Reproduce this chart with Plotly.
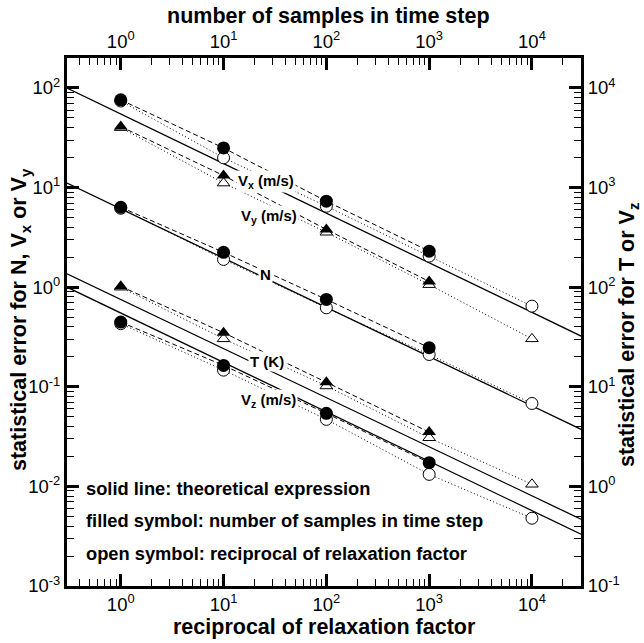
import plotly.graph_objects as go
import math

# ---------------- data ----------------
x_filled = [1, 10, 100, 1000]
x_open = [1, 10, 100, 1000, 10000]

# left axis: N, Vx, Vy
vx_filled = [76, 25.0, 7.3, 2.30]
vx_open = [74, 19.9, 6.5, 2.05, 0.645]
vy_filled = [41, 13.2, 3.8, 1.14]
vy_open = [40, 11.1, 3.56, 1.06, 0.303]
n_filled = [6.35, 2.24, 0.753, 0.247]
n_open = [6.2, 1.90, 0.621, 0.211, 0.068]

# right axis: T, Vz
t_filled = [102, 34.9, 11.1, 3.51]
t_open = [100, 30.3, 10.2, 3.08, 1.05]
vz_filled = [44.6, 16.4, 5.41, 1.73]
vz_open = [43, 14.7, 4.71, 1.32, 0.479]

# theoretical expressions (straight lines across the plot)
theory_x = [0.3, 30000]
vxy_theory = [100, 0.323]
n_theory = [11.1, 0.0374]
t_theory = [136, 0.468]
vz_theory = [100, 0.331]

x_tickvals = [1, 10, 100, 1000, 10000]
x_ticktext = ["10<sup>0</sup>", "10<sup>1</sup>", "10<sup>2</sup>", "10<sup>3</sup>", "10<sup>4</sup>"]
y_tickvals = [1e-3, 1e-2, 1e-1, 1, 10, 100]
y_ticktext = ["10<sup>-3</sup>", "10<sup>-2</sup>", "10<sup>-1</sup>", "10<sup>0</sup>", "10<sup>1</sup>", "10<sup>2</sup>"]
y2_tickvals = [1e-1, 1, 10, 100, 1000, 10000]
y2_ticktext = ["10<sup>-1</sup>", "10<sup>0</sup>", "10<sup>1</sup>", "10<sup>2</sup>", "10<sup>3</sup>", "10<sup>4</sup>"]

x_range = [0.3, 30000]
y_range = [1e-3, 200]
y2_range = [1e-1, 20000]

FONT = "Liberation Sans, Arial, sans-serif"

ML, MR, MT, MB = 67, 63, 58, 57
W, H = 644, 643
PW, PH = W - ML - MR, H - MT - MB


def px2paper(px, py):
    return (px - ML) / PW, (H - MB - py) / PH


def minor_vals(lo, hi):
    vals = []
    for e in range(int(math.floor(math.log10(lo))) - 1, int(math.ceil(math.log10(hi))) + 1):
        for k in range(2, 10):
            v = k * 10 ** e
            if lo <= v <= hi:
                vals.append(v)
    return vals


fig = go.Figure()

DASH = "5px,3px"
DOT = "1px,2.5px"


def add_open(x, y, sym, yaxis):
    fig.add_trace(go.Scatter(
        x=x, y=y, mode="lines+markers", yaxis=yaxis, showlegend=False,
        line=dict(color="black", width=1, dash=DOT),
        marker=dict(symbol=sym, size=12 if sym == "circle" else 11, color="white",
                    line=dict(color="black", width=1))))


def add_filled(x, y, sym, yaxis):
    fig.add_trace(go.Scatter(
        x=x, y=y, mode="lines+markers", yaxis=yaxis, showlegend=False,
        line=dict(color="black", width=1, dash=DASH),
        marker=dict(symbol=sym, size=13 if sym == "circle" else 12, color="black",
                    line=dict(color="black", width=0))))


def add_theory(y, yaxis):
    fig.add_trace(go.Scatter(
        x=theory_x, y=y, mode="lines", yaxis=yaxis, showlegend=False,
        line=dict(color="black", width=1.3)))


# theory lines
add_theory(vxy_theory, "y")
add_theory(n_theory, "y")
add_theory(t_theory, "y2")
add_theory(vz_theory, "y2")

# open symbols (reciprocal of relaxation factor)
add_open(x_open, vx_open, "circle", "y")
add_open(x_open, vy_open, "triangle-up", "y")
add_open(x_open, n_open, "circle", "y")
add_open(x_open, t_open, "triangle-up", "y2")
add_open(x_open, vz_open, "circle", "y2")

# filled symbols (number of samples in time step)
add_filled(x_filled, vx_filled, "circle", "y")
add_filled(x_filled, vy_filled, "triangle-up", "y")
add_filled(x_filled, n_filled, "circle", "y")
add_filled(x_filled, t_filled, "triangle-up", "y2")
add_filled(x_filled, vz_filled, "circle", "y2")

# invisible trace to anchor the top axis
fig.add_trace(go.Scatter(x=[1], y=[1], xaxis="x2", yaxis="y", mode="markers",
                         marker=dict(opacity=0), showlegend=False, hoverinfo="skip"))

tickfont = dict(family=FONT, size=18.5, color="black")


def axis(rng, tv, tt, side=None, overlaying=None, **kw):
    d = dict(
        type="log", range=[math.log10(rng[0]), math.log10(rng[1])],
        showline=True, linewidth=3, linecolor="black",
        ticks="inside", ticklen=12, tickwidth=2.5, tickcolor="black",
        tickmode="array", tickvals=tv, ticktext=tt, tickfont=tickfont,
        showgrid=False, zeroline=False,
        minor=dict(ticks="inside", ticklen=7, tickwidth=1, tickcolor="black",
                   tickmode="array", tickvals=minor_vals(rng[0], rng[1]), showgrid=False),
    )
    if side:
        d["side"] = side
    if overlaying:
        d["overlaying"] = overlaying
    d.update(kw)
    return d


fig.update_layout(
    width=W, height=H,
    margin=dict(l=ML, r=MR, t=MT, b=MB),
    paper_bgcolor="white", plot_bgcolor="white",
    xaxis=axis(x_range, x_tickvals, x_ticktext),
    xaxis2=axis(x_range, x_tickvals, x_ticktext, side="top", overlaying="x", anchor="y"),
    yaxis=axis(y_range, y_tickvals, y_ticktext),
    yaxis2=axis(y2_range, y2_tickvals, y2_ticktext, side="right", overlaying="y", anchor="x"),
)

# axis titles (pixel-placed)
titles = [
    ("reciprocal of relaxation factor", 324, 627, 0, 21.5),
    ("number of samples in time step", 328, 16, 0, 21.5),
    ("statistical error for N, V<sub>x</sub> or V<sub>y</sub>", 20, 320, -90, 21.5),
    ("statistical error for T or V<sub>z</sub>", 628, 335, -90, 21.5),
]
for txt, px, py, ang, sz in titles:
    ax, ay = px2paper(px, py)
    fig.add_annotation(text=txt, x=ax, y=ay, xref="paper", yref="paper",
                       xanchor="center", yanchor="middle", textangle=ang, showarrow=False,
                       font=dict(family=FONT, size=sz, color="black", weight="bold"))

labfont = dict(family=FONT, size=15, color="black", weight="bold")
curve_labels = [
    ("V<sub>x</sub> (m/s)", 266, 170),
    ("V<sub>y</sub> (m/s)", 269, 205),
    ("N", 265, 274),
    ("T (K)", 267, 361),
    ("V<sub>z</sub> (m/s)", 268, 400),
]
for txt, px, py in curve_labels:
    ax, ay = px2paper(px, py)
    fig.add_annotation(text=txt, x=ax, y=ay, xref="paper", yref="paper",
                       showarrow=False, font=labfont, bgcolor="white", borderpad=1)

notes = [
    ("solid line: theoretical expression", 488),
    ("filled symbol: number of samples in time step", 520),
    ("open symbol: reciprocal of relaxation factor", 553),
]
notefont = dict(family=FONT, size=18.3, color="black", weight="bold")
for txt, py in notes:
    ax, ay = px2paper(84, py)
    fig.add_annotation(text=txt, x=ax, y=ay, xref="paper", yref="paper",
                       xanchor="left", yanchor="middle", showarrow=False, font=notefont)

fig.write_html("out.html")
